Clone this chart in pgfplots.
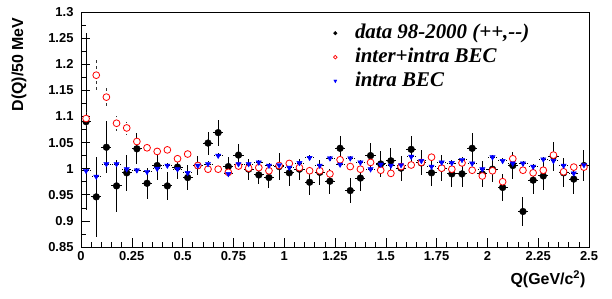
\documentclass[border=0pt]{standalone}
\usepackage{fontspec}
\setmainfont{Liberation Serif}
\setsansfont{Liberation Sans}
\usepackage{pgfplots}
\usepackage{pgfplotstable}
\pgfplotsset{compat=1.18}

\pgfplotstableread{
x y ey
0.025 1.090 0.170
0.075 0.946 0.076
0.125 1.041 0.050
0.175 0.967 0.050
0.225 0.992 0.035
0.275 1.038 0.030
0.325 0.972 0.030
0.375 1.006 0.027
0.425 0.967 0.027
0.475 1.003 0.022
0.525 0.983 0.024
0.575 1.006 0.018
0.625 1.049 0.022
0.675 1.069 0.025
0.725 1.004 0.018
0.775 1.026 0.022
0.825 0.999 0.020
0.875 0.988 0.018
0.925 0.983 0.020
0.975 1.004 0.026
1.025 0.992 0.025
1.075 0.999 0.020
1.125 0.974 0.024
1.175 0.993 0.024
1.225 0.976 0.024
1.275 1.039 0.024
1.325 0.958 0.024
1.375 0.982 0.024
1.425 1.025 0.024
1.475 1.009 0.024
1.525 1.015 0.024
1.575 1.001 0.024
1.625 1.037 0.025
1.675 1.011 0.024
1.725 0.992 0.025
1.775 1.001 0.025
1.825 0.990 0.025
1.875 0.990 0.025
1.925 1.039 0.030
1.975 0.990 0.025
2.025 0.999 0.025
2.075 0.964 0.025
2.125 1.006 0.025
2.175 0.918 0.027
2.225 0.978 0.027
2.275 0.986 0.027
2.325 1.024 0.028
2.375 0.992 0.028
2.425 0.980 0.028
2.475 1.006 0.030
}\datatab

\pgfplotstableread{
x y ey
0.025 1.096 0.012
0.075 1.179 0.030
0.125 1.137 0.022
0.175 1.087 0.014
0.225 1.078 0.012
0.275 1.052 0.010
0.325 1.040 0.008
0.375 1.033 0.008
0.425 1.036 0.008
0.475 1.019 0.008
0.525 1.028 0.008
0.575 1.006 0.007
0.625 0.999 0.006
0.675 0.999 0.006
0.725 0.993 0.006
0.775 1.005 0.006
0.825 1.001 0.006
0.875 1.002 0.006
0.925 0.996 0.006
0.975 1.006 0.006
1.025 1.010 0.006
1.075 1.002 0.006
1.125 0.996 0.006
1.175 0.996 0.006
1.225 0.990 0.006
1.275 1.017 0.006
1.325 1.004 0.006
1.375 0.999 0.006
1.425 1.012 0.006
1.475 0.997 0.006
1.525 0.991 0.006
1.575 1.004 0.006
1.625 1.007 0.006
1.675 1.012 0.006
1.725 1.022 0.006
1.775 1.001 0.006
1.825 0.999 0.006
1.875 1.011 0.006
1.925 0.997 0.006
1.975 0.986 0.006
2.025 0.996 0.006
2.075 0.975 0.006
2.125 1.019 0.006
2.175 0.997 0.006
2.225 0.992 0.006
2.275 0.997 0.006
2.325 1.026 0.006
2.375 0.994 0.006
2.425 1.003 0.006
2.475 1.003 0.006
}\intertab

\pgfplotstableread{
x y ey
0.025 0.996 0.010
0.075 0.985 0.010
0.125 1.009 0.008
0.175 1.009 0.006
0.225 0.999 0.005
0.275 0.997 0.005
0.325 0.994 0.005
0.375 1.000 0.005
0.425 1.006 0.005
0.475 0.999 0.005
0.525 0.992 0.005
0.575 1.006 0.005
0.625 1.009 0.005
0.675 1.025 0.005
0.725 0.990 0.005
0.775 1.009 0.005
0.825 1.009 0.005
0.875 1.012 0.005
0.925 1.006 0.005
0.975 1.007 0.005
1.025 1.002 0.005
1.075 1.011 0.005
1.125 1.021 0.005
1.175 1.006 0.005
1.225 1.020 0.005
1.275 1.008 0.005
1.325 1.020 0.005
1.375 1.012 0.005
1.425 0.999 0.005
1.475 1.008 0.005
1.525 1.006 0.005
1.575 1.007 0.005
1.625 1.023 0.005
1.675 1.015 0.005
1.725 1.004 0.005
1.775 1.012 0.005
1.825 1.011 0.005
1.875 1.017 0.005
1.925 1.010 0.005
1.975 0.999 0.005
2.025 1.022 0.005
2.075 1.015 0.005
2.125 1.010 0.005
2.175 1.010 0.005
2.225 1.004 0.005
2.275 1.018 0.005
2.325 1.015 0.005
2.375 1.006 0.005
2.425 0.991 0.005
2.475 1.007 0.005
}\intratab

\begin{document}
\begin{tikzpicture}
\path[use as bounding box] (-81bp,-52bp) rectangle (531bp,247bp);
\begin{axis}[
  at={(0,0)}, anchor=south west,
  scale only axis, width=508bp, height=235bp,
  xmin=0, xmax=2.5, ymin=0.85, ymax=1.3,
  axis line style={line width=0.8bp},
  xtick={0,0.25,0.5,0.75,1,1.25,1.5,1.75,2,2.25,2.5},
  xticklabels={0,0.25,0.5,0.75,1,1.25,1.5,1.75,2,2.25,2.5},
  ytick={0.85,0.9,0.95,1,1.05,1.1,1.15,1.2,1.25,1.3},
  yticklabels={0.85,0.9,0.95,1,1.05,1.1,1.15,1.2,1.25,1.3},
  minor x tick num=4, minor y tick num=1,
  xtick pos=bottom, ytick pos=left,
  tick align=inside,
  major tick length=9bp, minor tick length=5bp,
  tick style={black, line width=0.6bp},
  tick label style={font=\sffamily\bfseries\fontsize{13}{15}\selectfont},
  xticklabel style={yshift=-1bp},
  yticklabel style={xshift=-4bp},
  legend style={draw=none, fill=none, at={(axis description cs:0.491,0.966)}, anchor=north west,
    font=\rmfamily\bfseries\itshape\fontsize{21}{23}\selectfont, row sep=2bp,
    inner sep=2bp, nodes={inner sep=2bp, text height=14bp, text depth=4bp}},
  legend cell align=left,
]
\addplot[forget plot, only marks, mark=*, mark size=3.4bp, black,
  error bars/.cd, x dir=both, x fixed=0.025, y dir=both, y explicit,
  error mark=none, error bar style={line width=1bp, black}]
  table[x=x, y=y, y error=ey] {\datatab};
\addplot[forget plot, only marks, mark=*, mark size=3.4bp, red, mark options={line width=0.8bp, fill=white, draw=red},
  error bars/.cd, x dir=both, x fixed=0.025, y dir=both, y explicit,
  error mark=none, error bar style={line width=0.8bp, black!80, dashed}]
  table[x=x, y=y, y error=ey] {\intertab};
\addplot[forget plot, only marks, mark=triangle*, mark size=3bp, blue, mark options={rotate=180},
  error bars/.cd, x dir=both, x fixed=0.025, y dir=both, y explicit,
  error mark=none, error bar style={line width=0.8bp, black, densely dotted}]
  table[x=x, y=y, y error=ey] {\intratab};
\addlegendimage{legend image code/.code={\path (0bp,0bp) (20bp,0bp); \fill[black] (2.5bp,0bp) circle (1.8bp);}}
\addlegendentry{data 98-2000 (++,-{}-)}
\addlegendimage{legend image code/.code={\path (0bp,0bp) (20bp,0bp); \draw[red, line width=0.7bp, fill=white] (2.5bp,0bp) circle (1.8bp);}}
\addlegendentry{inter+intra BEC}
\addlegendimage{legend image code/.code={\path (0bp,0bp) (20bp,0bp); \fill[blue] (1bp,1.2bp) -- (4bp,1.2bp) -- (2.5bp,-1.6bp) -- cycle;}}
\addlegendentry{intra BEC}
\end{axis}
\node[rotate=90, anchor=east, font=\sffamily\bfseries\fontsize{16}{18}\selectfont] at (-62bp,233bp) {D(Q)/50 MeV};
\node[anchor=east, font=\sffamily\bfseries\fontsize{16}{18}\selectfont] at (508bp,-32bp) {Q(GeV/c\textsuperscript{2})};
\end{tikzpicture}
\end{document}
